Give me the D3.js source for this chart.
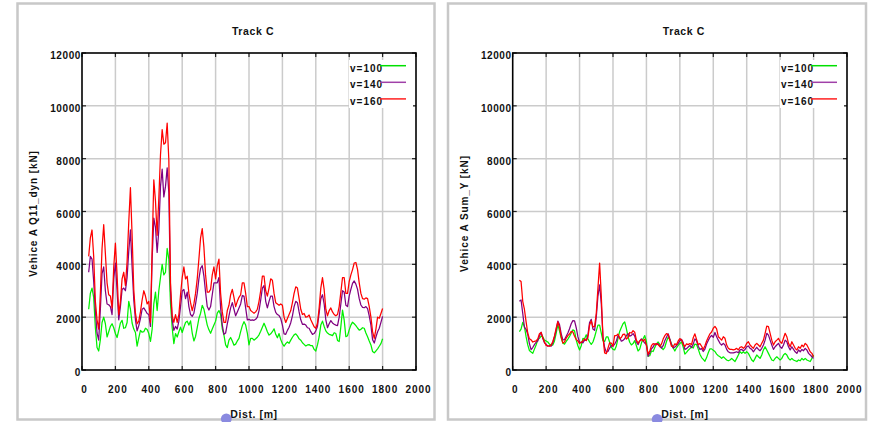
<!DOCTYPE html>
<html>
<head>
<meta charset="utf-8">
<script src="https://cdn.jsdelivr.net/npm/d3@7"></script>
<style>
  html, body { margin: 0; padding: 0; background: #fff; }
  svg { display: block; font-family: "Liberation Sans", Arial, Helvetica, sans-serif; }
</style>
</head>
<body>
<svg id="chart" width="874" height="422"></svg>
<script>
// Sample positions along the track [m], one sample every 10 m
const distances = d3.range(40, 1801, 10);

// Vehicle A, Q11_dyn [kN]
const q11V100 = [
  2300,2900,3100,2750,1600,850,720,1150,1800,2000,
  1750,1250,1450,1650,1750,1600,1380,1230,1500,1780,
  1880,1580,1600,1800,2600,2300,1780,1550,1420,900,
  1220,1500,1430,1450,1580,1530,1380,1080,1550,2500,
  2950,2250,3000,3500,4000,3600,3700,4600,4200,2500,
  1600,1000,1380,1250,1450,1620,1420,1620,1800,1850,
  1700,1860,1400,1100,1270,1600,1950,2150,2450,2300,
  2000,1700,1520,1390,1550,1700,1850,2150,2250,2100,
  1560,1320,950,850,1130,1230,1100,940,980,1100,
  1200,1450,1680,1830,1700,1400,950,1200,1200,1130,
  1180,1240,1330,1470,1620,1770,1620,1450,1320,1370,
  1450,1560,1350,1220,1380,1150,1000,900,1000,1060,
  1010,1130,1240,1330,1370,1290,1180,1130,1030,970,
  910,950,960,920,920,780,720,950,1250,1700,
  1850,1650,1480,1400,1350,1330,1300,1410,1380,1120,
  1080,1640,2270,1890,1260,1300,1520,1700,1810,1750,
  1680,1590,1510,1540,1600,1580,1400,1260,1100,950,
  700,650,720,800,900,1000,1180
];
const q11V140 = [
  3700,4300,4200,3350,2250,1400,1130,2300,3650,3900,
  3000,2500,2470,2400,2100,3450,4050,3000,1900,2400,
  3050,3100,3000,3500,4500,5300,3900,2650,1900,1480,
  1680,1950,2300,2350,2250,2140,2100,1650,4200,5750,
  5400,4450,5300,6950,7600,6550,6950,7650,6700,3000,
  1900,1500,1650,1550,1850,2400,2990,3050,2700,2950,
  2400,2100,2030,2150,2500,2900,3450,3850,3950,3550,
  2950,2400,2270,2400,2850,3300,3300,3300,3500,2350,
  1700,1350,1400,1750,2050,2350,2550,2300,2050,2200,
  2350,2500,2820,2800,2350,1900,1920,1880,1900,1880,
  1920,2000,2250,2650,3100,3200,2600,2350,2600,2800,
  2800,2400,2180,2100,2060,1950,1700,1370,1350,1500,
  1620,1790,2050,2400,2600,2550,2200,1900,1730,1740,
  1700,1600,1580,1450,1350,1380,1480,1650,2150,2700,
  2850,2500,1900,1600,1750,1870,1780,1730,1700,1680,
  2000,2500,3000,2950,2450,2400,2800,3050,3280,3370,
  3250,3050,2700,2460,2370,2360,2400,2320,2050,1700,
  1150,1020,1250,1450,1580,1800,2030
];
const q11V160 = [
  4300,5000,5300,4300,2600,1900,1550,2900,4600,5500,
  4400,3300,2850,2800,2350,3900,4800,3600,2100,2600,
  3450,3700,3200,4100,5600,6900,5100,3050,2150,1750,
  1850,2200,2650,3000,2800,2500,2600,1800,4600,7200,
  6400,5100,6500,8150,9100,8550,8600,9350,7950,3300,
  2050,1800,2100,1800,2100,2850,3500,3900,3450,3550,
  2900,2550,2250,2500,2900,3450,4200,5000,5350,4650,
  3600,2950,2950,3050,3600,3900,3450,3950,4200,2900,
  2200,1800,1800,2250,2450,2850,3050,2750,2400,2600,
  2750,2850,3300,3300,2900,2400,2400,2250,2200,2150,
  2200,2300,2600,3000,3550,3550,3000,2800,3100,3450,
  3400,2900,2550,2500,2450,2500,2450,2000,1800,1950,
  2100,2250,2550,2900,3150,3100,2700,2300,2100,2140,
  2000,2020,2080,1900,1770,1640,1580,1770,2350,3100,
  3500,3050,2300,2050,2250,2350,2200,2100,2050,2100,
  2400,2950,3500,3500,2900,2900,3350,3600,3800,4050,
  4070,3800,3300,2900,2700,2680,2730,2700,2400,2000,
  1450,1200,1550,2000,1960,2140,2330
];

// Vehicle A, Sum_Y [kN]
const sumYV100 = [
  1450,1550,1800,1650,1260,950,740,680,630,790,
  945,1150,1200,1280,1260,1130,1100,1060,980,945,
  945,1100,1390,1720,1480,1210,1020,980,1080,1170,
  1270,1390,1520,1480,1130,920,760,920,1200,1180,
  1330,1180,1060,970,1060,1250,1480,1700,1700,1400,
  1100,1080,1250,1250,1050,870,780,760,910,1200,
  1460,1610,1750,1820,1570,1260,1050,950,1000,1110,
  920,720,790,1020,1180,1300,1080,520,540,720,
  700,850,990,1060,970,850,770,860,1080,1240,
  1160,980,840,720,840,930,1000,1060,870,600,
  670,750,810,870,830,980,960,790,600,470,
  400,330,470,650,800,800,750,700,600,540,
  500,440,500,440,380,350,380,440,380,320,
  440,570,690,630,690,630,690,630,500,380,
  320,440,570,500,440,570,760,880,760,630,
  500,380,350,440,500,440,380,440,570,630,
  570,440,380,440,380,350,320,380,350,440,
  380,440,380,350,320,440,570
];
const sumYV140 = [
  2600,2650,2150,1620,1540,1350,1000,770,850,960,
  1050,1100,1290,1430,1200,1030,970,900,920,900,
  1030,1250,1520,1850,1720,1380,1140,1150,1280,1400,
  1560,1750,1870,1860,1600,1260,1050,1050,1030,1130,
  1120,1330,1800,1920,1550,1500,2000,2800,3220,2500,
  1250,850,680,700,830,920,900,980,1100,1300,
  1230,1090,1120,1180,1300,1380,1280,1310,1380,1280,
  1050,960,1100,1180,1100,1020,960,520,650,800,
  870,990,960,1000,900,830,920,1110,1240,1370,
  1180,960,830,870,930,1000,1110,1160,1040,780,
  810,870,930,850,980,1180,1100,900,780,810,
  700,790,980,1120,1240,1310,1240,1420,1260,1130,
  1010,945,1010,945,780,690,650,650,650,670,
  690,650,760,780,730,780,880,910,820,780,
  690,780,860,780,730,820,945,1130,1390,1320,
  1130,945,780,880,945,1010,880,820,945,1130,
  1070,880,760,880,780,690,630,760,690,780,
  730,820,760,630,570,500,440
];
const sumYV160 = [
  3400,3350,2600,2300,1830,1400,1180,1140,1060,1080,
  1100,1180,1370,1420,1220,1060,930,910,900,950,
  1080,1290,1580,1820,1620,1260,1020,1060,1210,1300,
  1360,1460,1440,1280,1160,1100,1000,1050,1100,1180,
  1110,1230,1700,1860,1630,1650,2150,3100,4050,2800,
  1250,650,620,830,1030,1020,900,1300,1300,1360,
  1180,1230,1350,1360,1170,1230,1420,1400,1490,1430,
  1130,1020,1100,1150,1100,1170,920,600,720,920,
  1000,960,1000,960,890,980,1170,1300,1380,1340,
  1120,900,880,990,960,1100,1190,1140,970,890,
  990,960,1000,960,1220,1370,1160,960,1000,900,
  780,920,1100,1240,1370,1440,1580,1650,1560,1260,
  1200,1130,1260,1200,945,820,780,780,760,780,
  820,760,860,880,820,880,1010,1070,945,880,
  820,945,1010,945,880,1010,1130,1390,1660,1640,
  1390,1130,945,1070,1130,1200,1070,1010,1200,1390,
  1260,1010,880,1070,945,820,760,880,820,945,
  880,1010,945,820,690,630,500
];

// Axis ticks and labels
const xTicks = [0, 200, 400, 600, 800, 1000, 1200, 1400, 1600, 1800, 2000];
const yTicks = [0, 2000, 4000, 6000, 8000, 10000, 12000];
const seriesNames = ["v=100", "v=140", "v=160"];
const chartTitle = "Track C";
const xTitle = "Dist. [m]";
const yTitles = ["Vehice A Q11_dyn [kN]", "Vehice A Sum_Y [kN]"];

// Styling
const lineColors = ["#00f000", "#800080", "#ff0000"];
const swatchColors = ["#00e000", "#a040a8", "#ff2020"];
const gridColor = "#cbcbcb";

const panels = [
  { series: [q11V100, q11V140, q11V160], yTitle: yTitles[0],
    frame: [17.5, 3.5, 434.5, 419.5], plot: [82, 53, 416, 370], yTitleX: 36.5, marker: [226.3, 418.8] },
  { series: [sumYV100, sumYV140, sumYV160], yTitle: yTitles[1],
    frame: [448, 3.5, 866, 419.5], plot: [512.7, 53, 847, 370], yTitleX: 468, marker: [657.2, 419.3] }
];

const svg = d3.select("#chart");
svg.append("rect").attr("width", 874).attr("height", 422).attr("fill", "#fff");

function drawPanel(p) {
  const [fx0, fy0, fx1, fy1] = p.frame;
  const [x0, y0, x1, y1] = p.plot;
  const x = d3.scaleLinear().domain([0, 2000]).range([x0, x1]);
  const y = d3.scaleLinear().domain([0, 12000]).range([y1, y0]);
  const g = svg.append("g");

  // panel border
  g.append("rect")
    .attr("x", fx0).attr("y", fy0)
    .attr("width", fx1 - fx0).attr("height", fy1 - fy0)
    .attr("fill", "#fff").attr("stroke", "#c8c8c8").attr("stroke-width", 2.5);

  // grid
  g.append("g").selectAll("line").data(xTicks.slice(1, -1)).join("line")
    .attr("x1", d => x(d)).attr("x2", d => x(d))
    .attr("y1", y0).attr("y2", y1)
    .attr("stroke", gridColor).attr("stroke-width", 1.5);
  g.append("g").selectAll("line").data(yTicks.slice(1, -1)).join("line")
    .attr("x1", x0).attr("x2", x1)
    .attr("y1", d => y(d)).attr("y2", d => y(d))
    .attr("stroke", gridColor).attr("stroke-width", 1.5);

  // inward tick marks on all four sides
  const tk = g.append("g").attr("stroke", "#222").attr("stroke-width", 1.2);
  tk.selectAll(".tb").data(xTicks).join("line").attr("class", "tb")
    .attr("x1", d => x(d)).attr("x2", d => x(d)).attr("y1", y1).attr("y2", y1 - 4);
  tk.selectAll(".tt").data(xTicks).join("line").attr("class", "tt")
    .attr("x1", d => x(d)).attr("x2", d => x(d)).attr("y1", y0).attr("y2", y0 + 4);
  tk.selectAll(".tl").data(yTicks).join("line").attr("class", "tl")
    .attr("x1", x0).attr("x2", x0 + 4).attr("y1", d => y(d)).attr("y2", d => y(d));
  tk.selectAll(".tr").data(yTicks).join("line").attr("class", "tr")
    .attr("x1", x1).attr("x2", x1 - 4).attr("y1", d => y(d)).attr("y2", d => y(d));

  // series
  const line = d3.line()
    .x((d, i) => x(distances[i]))
    .y(d => y(d));
  p.series.forEach((s, k) => {
    g.append("path").datum(s)
      .attr("d", line)
      .attr("fill", "none")
      .attr("stroke", lineColors[k])
      .attr("stroke-width", 1.25)
      .attr("stroke-linejoin", "round");
  });

  // legend
  const lg = g.append("g");
  lg.append("rect")
    .attr("x", x1 - 67).attr("y", y0 + 7)
    .attr("width", 64).attr("height", 48)
    .attr("fill", "#fff");
  seriesNames.forEach((name, k) => {
    const by = y0 + 18.7 + k * 16.6;
    lg.append("text")
      .attr("x", x1 - 66).attr("y", by)
      .attr("font-size", 10).attr("font-weight", "bold")
      .attr("letter-spacing", 1).attr("fill", "#111")
      .text(name);
    lg.append("line")
      .attr("x1", x1 - 36).attr("x2", x1 - 10)
      .attr("y1", by - 6).attr("y2", by - 6)
      .attr("stroke", swatchColors[k]).attr("stroke-width", 1.5);
  });

  // frame
  g.append("rect")
    .attr("x", x0).attr("y", y0)
    .attr("width", x1 - x0).attr("height", y1 - y0)
    .attr("fill", "none").attr("stroke", "#000").attr("stroke-width", 1.6);

  // tick labels
  const xAxis = g.append("g")
    .attr("transform", `translate(0,${y1})`)
    .call(d3.axisBottom(x).tickValues(xTicks).tickSize(0).tickPadding(15.6).tickFormat(d3.format("d")));
  xAxis.select(".domain").remove();
  xAxis.selectAll("text")
    .attr("font-family", null).attr("font-size", 10).attr("font-weight", "bold")
    .attr("letter-spacing", 1).attr("dx", 2).attr("fill", "#111");

  const yAxis = g.append("g")
    .attr("transform", `translate(${x0},0)`)
    .call(d3.axisLeft(y).tickValues(yTicks).tickSize(0).tickPadding(1).tickFormat(d3.format("d")));
  yAxis.select(".domain").remove();
  yAxis.selectAll("text")
    .attr("font-family", null).attr("font-size", 10).attr("font-weight", "bold")
    .attr("letter-spacing", 0.6).attr("dy", "0.55em").attr("fill", "#111");
  xAxis.attr("font-family", null);
  yAxis.attr("font-family", null);

  // titles
  const cx = (x0 + x1) / 2;
  g.append("text")
    .attr("x", cx + 4).attr("y", 35)
    .attr("text-anchor", "middle")
    .attr("font-size", 10.5).attr("font-weight", "bold")
    .attr("letter-spacing", 0.6).attr("fill", "#111")
    .text(chartTitle);
  g.append("text")
    .attr("x", cx + 5).attr("y", 417.5)
    .attr("text-anchor", "middle")
    .attr("font-size", 10.5).attr("font-weight", "bold")
    .attr("letter-spacing", 0.6).attr("fill", "#111")
    .text(xTitle);
  g.append("text")
    .attr("transform", `translate(${p.yTitleX},${(y0 + y1) / 2 + 2}) rotate(-90)`)
    .attr("text-anchor", "middle")
    .attr("font-size", 10).attr("font-weight", "bold")
    .attr("letter-spacing", 0.9).attr("fill", "#111")
    .text(p.yTitle);

  // position marker under the distance axis title
  g.append("circle")
    .attr("cx", p.marker[0]).attr("cy", p.marker[1]).attr("r", 5.4)
    .attr("fill", "#8a8ae0");
}

panels.forEach(drawPanel);
</script>
</body>
</html>
